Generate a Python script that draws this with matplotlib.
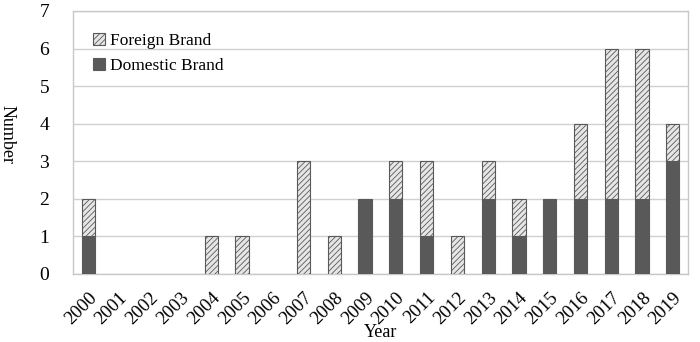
import numpy as np
import matplotlib
matplotlib.use("Agg")
import matplotlib.pyplot as plt

plt.rcParams['font.family'] = ['Liberation Serif', 'DejaVu Serif']
plt.rcParams['hatch.linewidth'] = 0.6
plt.rcParams['hatch.color'] = '#8a8a8a'

years = [str(y) for y in range(2000, 2020)]
domestic = [1, 0, 0, 0, 0, 0, 0, 0, 0, 2, 2, 1, 0, 2, 1, 2, 2, 2, 2, 3]
foreign = [1, 0, 0, 0, 1, 1, 0, 3, 1, 0, 1, 2, 1, 1, 1, 0, 2, 4, 4, 1]

fig, ax = plt.subplots(figsize=(7, 3.42), dpi=100)
fig.subplots_adjust(left=0.104, right=0.983, top=0.968, bottom=0.199)

x = np.arange(len(years))
dom = np.array(domestic)
fgn = np.array(foreign)
w = 0.43

# skip zero-height segments so no stray edge lines appear
md = dom > 0
mf = fgn > 0
ax.bar(x[md], dom[md], w, color='#595959', edgecolor='#595959', linewidth=0.8,
       label='Domestic Brand', zorder=3)
ax.bar(x[mf], fgn[mf], w, bottom=dom[mf], color='#e6e6e6', edgecolor='#595959',
       hatch='//////', linewidth=0.8, label='Foreign Brand', zorder=3)

ax.set_xlim(-0.5, len(years) - 0.5)
ax.set_ylim(0, 7)
ax.set_yticks(range(0, 8))
ax.set_xticks(x)
ax.set_xticklabels(years, rotation=45, ha='right', rotation_mode='anchor', fontsize=13.5)
ax.tick_params(axis='y', labelsize=14, length=0, pad=17)
ax.tick_params(axis='x', length=0, pad=11)
ax.yaxis.grid(True, color='#d0d0d0', linewidth=1, zorder=0)
for s in ax.spines.values():
    s.set_color('#c8c8c8')
    s.set_linewidth(1)
ax.set_xlabel('Year', fontsize=13)
ax.xaxis.set_label_coords(0.5, -0.19)
ax.set_ylabel('Number', fontsize=13, rotation=270)
ax.yaxis.set_label_coords(-0.12, 0.53)

h, l = ax.get_legend_handles_labels()
ax.legend(h[::-1], l[::-1], loc='upper left', frameon=False, fontsize=12.5,
          handlelength=0.65, handleheight=0.65, handletextpad=0.3,
          bbox_to_anchor=(0.008, 0.975), labelspacing=0.5)

fig.savefig('out.png')
